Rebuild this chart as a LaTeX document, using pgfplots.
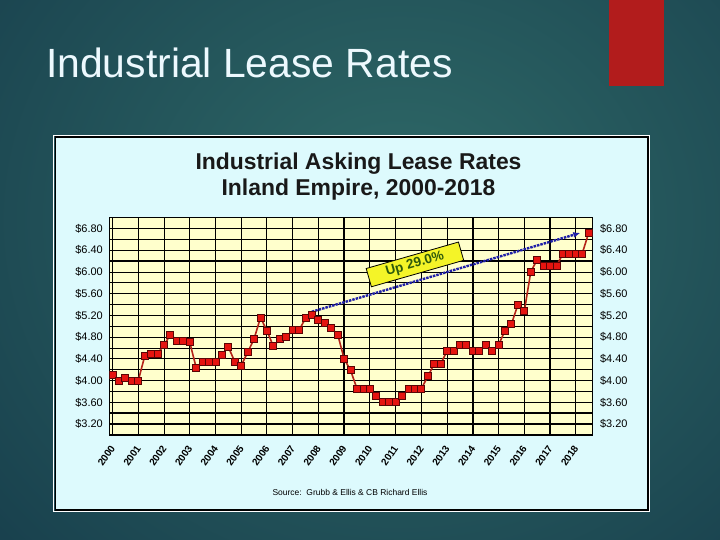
\documentclass[border=0pt]{standalone}
\usepackage{fontspec}
\setmainfont{Liberation Sans}
\usepackage{pgfplots}
\usepackage{pgfplotstable}
\pgfplotsset{compat=1.18}
\usetikzlibrary{arrows.meta}

\definecolor{slidein}{HTML}{2F6A68}
\definecolor{slideout}{HTML}{143848}
\definecolor{slidered}{HTML}{B21C1C}
\definecolor{panelbg}{HTML}{DDFAFD}
\definecolor{plotbg}{HTML}{FFFFCC}
\definecolor{linered}{HTML}{B42318}
\definecolor{markred}{HTML}{E51410}
\definecolor{markedge}{HTML}{5A0505}
\definecolor{arrowblue}{HTML}{2020A8}
\definecolor{boxyellow}{HTML}{F4F428}
\definecolor{upgreen}{HTML}{2E5A0C}

% quarterly asking rates, 2000 Q1 = 0
\pgfplotstableread{
q rate
0 4.10
1 4.00
2 4.05
3 4.00
4 4.00
5 4.45
6 4.50
7 4.50
8 4.65
9 4.85
10 4.74
11 4.74
12 4.71
13 4.24
14 4.35
15 4.35
16 4.35
17 4.48
18 4.62
19 4.35
20 4.28
21 4.52
22 4.77
23 5.16
24 4.92
25 4.63
26 4.77
27 4.80
28 4.93
29 4.93
30 5.15
31 5.21
32 5.12
33 5.07
34 4.97
35 4.85
36 4.40
37 4.19
38 3.85
39 3.85
40 3.85
41 3.71
42 3.60
43 3.60
44 3.60
45 3.71
46 3.85
47 3.85
48 3.85
49 4.08
50 4.31
51 4.31
52 4.55
53 4.55
54 4.66
55 4.66
56 4.54
57 4.54
58 4.66
59 4.54
60 4.66
61 4.92
62 5.04
63 5.40
64 5.28
65 6.00
66 6.23
67 6.11
68 6.11
69 6.11
70 6.34
71 6.34
72 6.34
73 6.34
74 6.72
}\leasedata

\begin{document}
\begin{tikzpicture}[x=1bp,y=1bp]
% slide background
\begin{scope}
  \clip (0,0) rectangle (720,540);
  \shade[inner color=slidein, outer color=slideout] (-250,-260) rectangle (1050,900);
\end{scope}
\fill[slidered] (609,540) rectangle (664,453.5);
\node[anchor=base west, inner sep=0, text=white!93!cyan,
      font=\fontsize{41}{41}\selectfont] at (46,462) {Industrial Lease Rates};

% chart panel
\draw[white, line width=1] (53.5,28.5) rectangle (649.5,404.5);
\filldraw[fill=panelbg, draw=black, line width=2] (55.5,30) rectangle (647.5,402.5);
\node[font=\bfseries\fontsize{23}{23}\selectfont, text=black!90, anchor=base, inner sep=0]
  at (358.5,370.5) {Industrial Asking Lease Rates};
\node[font=\bfseries\fontsize{23}{23}\selectfont, text=black!90, anchor=base, inner sep=0]
  at (358.5,344) {Inland Empire, 2000-2018};
\node[font=\fontsize{8.5}{8.5}\selectfont, anchor=center, inner sep=0]
  at (350,48) {Source:\ \ Grubb \& Ellis \& CB Richard Ellis};

\begin{axis}[
  at={(109.3bp,105bp)}, anchor=south west,
  width=483.2bp, height=217.3bp, scale only axis,
  xmin=-0.5, xmax=74.6, ymin=3, ymax=7,
  axis background/.style={fill=plotbg},
  axis line style={black, line width=1.2bp},
  xtick={0,4,...,72},
  xticklabels={2000,2001,2002,2003,2004,2005,2006,2007,2008,2009,2010,2011,2012,2013,2014,2015,2016,2017,2018},
  xticklabel style={font=\bfseries\fontsize{10}{10}\selectfont, xshift=-3bp, yshift=-8bp, rotate=55, anchor=north east, inner sep=1bp},
  ytick={3.2,3.6,4.0,4.4,4.8,5.2,5.6,6.0,6.4,6.8},
  minor ytick={3.4,3.8,4.2,4.6,5.0,5.4,5.8,6.2,6.6},
  yticklabel={\$\pgfmathprintnumber[fixed,fixed zerofill,precision=2]{\tick}},
  yticklabel style={font=\fontsize{11}{11}\selectfont, xshift=-3bp},
  /pgf/number format/assume math mode=true,
  major tick length=0, minor tick length=0,
  grid=both,
  major grid style={black, line width=0.9bp},
  minor grid style={black, line width=0.9bp},
  clip=false,
]
% heavier rules as in the source image
\draw[black, line width=1.8bp] (axis cs:-0.5,6.6) -- (axis cs:74.6,6.6);
\draw[black, line width=1.8bp] (axis cs:-0.5,6.2) -- (axis cs:74.6,6.2);
\draw[black, line width=1.8bp] (axis cs:-0.5,3.4) -- (axis cs:74.6,3.4);
\draw[black, line width=1.8bp] (axis cs:-0.5,3.2) -- (axis cs:74.6,3.2);
\draw[black, line width=1.8bp] (axis cs:16,3) -- (axis cs:16,7);
\draw[black, line width=1.8bp] (axis cs:36,3) -- (axis cs:36,7);
\draw[black, line width=1.8bp] (axis cs:56,3) -- (axis cs:56,7);
\draw[black, line width=1.8bp] (axis cs:68,3) -- (axis cs:68,7);

\addplot[color=linered, line width=1.6bp, mark=square*, mark size=3.5bp,
  mark options={fill=markred, draw=markedge, line width=0.9bp}]
  table[x=q, y=rate] {\leasedata};

\draw[arrowblue, line width=2.4bp, dash pattern=on 2.5bp off 1bp,
      -{Latex[length=7bp,width=6bp]}]
  (axis cs:31,5.27) -- (axis cs:72.7,6.72);
\node[rotate=16, fill=boxyellow, draw=black, line width=0.8bp,
      minimum width=96bp, minimum height=19bp, inner sep=0,
      text=upgreen, font=\bfseries\fontsize{13.5}{13.5}\selectfont]
  at (axis cs:47,6.14) {Up 29.0\%};
\end{axis}

% right-hand value labels
\begin{axis}[
  at={(109.3bp,105bp)}, anchor=south west,
  width=483.2bp, height=217.3bp, scale only axis,
  xmin=-0.5, xmax=74.6, ymin=3, ymax=7,
  hide x axis, axis line style={draw=none},
  ytick={3.2,3.6,4.0,4.4,4.8,5.2,5.6,6.0,6.4,6.8},
  yticklabel pos=right,
  yticklabel={\$\pgfmathprintnumber[fixed,fixed zerofill,precision=2]{\tick}},
  yticklabel style={font=\fontsize{11}{11}\selectfont, anchor=west, xshift=4bp},
  /pgf/number format/assume math mode=true,
  major tick length=0,
]
\addplot[draw=none] coordinates {(0,5)};
\end{axis}

\pgfresetboundingbox
\path (0,0) rectangle (720,540);
\end{tikzpicture}
\end{document}
